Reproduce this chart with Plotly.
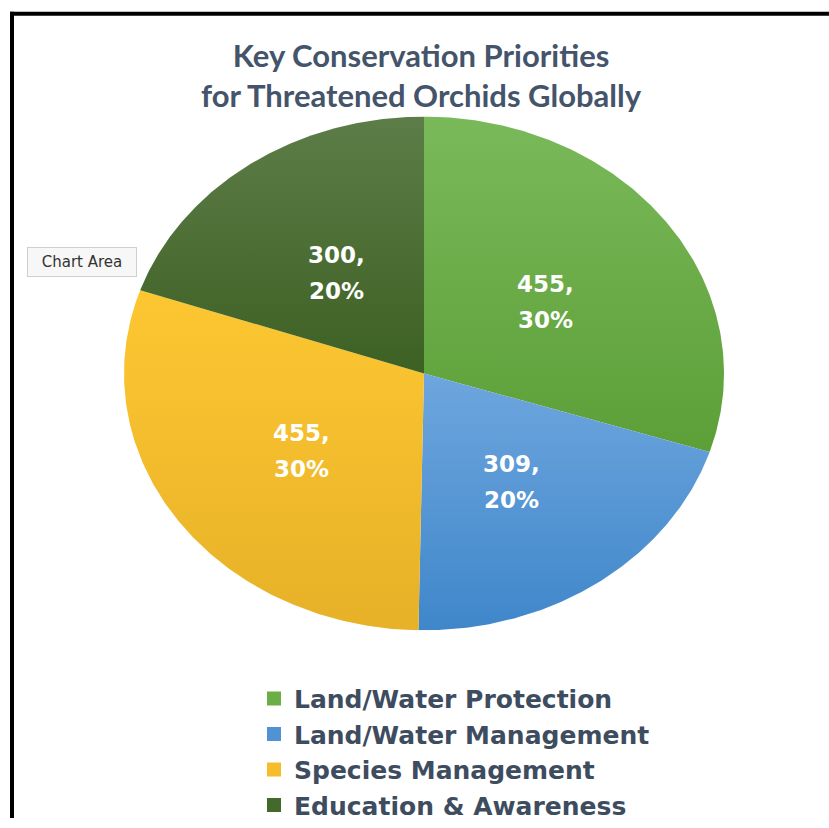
import numpy as np
import plotly.graph_objects as go

# Chart data
categories = ["Land/Water Protection", "Land/Water Management",
              "Species Management", "Education & Awareness"]
values = [455, 309, 455, 300]

# Slice fills: (bottom colour, top colour) for a soft vertical gradient
slice_colors = [("#5c9f37", "#7ab95a"),
                ("#3f87ca", "#6ea6de"),
                ("#e7b128", "#fdc732"),
                ("#3d6023", "#5d7d48")]
legend_colors = ["#6aae45", "#4f93d3", "#f5bd2c", "#436a2a"]

W, H = 829, 828
# pie bounding box in pixels (elliptical pie)
PX0, PX1, PY0, PY1 = 124, 724, 118, 638

total = sum(values)
fracs = [v / total for v in values]

label_font = dict(family="DejaVu Sans", size=23, color="white")

fig = go.Figure()
annotations = []

start = 0.0
for name, v, f, (c0, c1) in zip(categories, values, fracs, slice_colors):
    end = start + f
    t = np.linspace(start, end, 200) * 2 * np.pi
    xs = np.concatenate([[0], np.sin(t), [0]])
    ys = np.concatenate([[0], np.cos(t), [0]])
    fig.add_trace(go.Scatter(
        x=xs, y=ys, mode="lines", fill="toself",
        line=dict(width=0, color=c1),
        fillgradient=dict(type="vertical", colorscale=[[0, c0], [1, c1]]),
        showlegend=False, hoverinfo="skip"))
    # data label at half radius: value line above, percentage line below
    mid = (start + end) / 2 * 2 * np.pi
    lx, ly = 0.5 * np.sin(mid), 0.5 * np.cos(mid)
    for txt, shift in ((f"<b>{v},</b>", 14), (f"<b>{round(f * 100)}%</b>", -22)):
        annotations.append(dict(
            text=txt, x=lx, y=ly, xref="x", yref="y", yshift=shift,
            xanchor="center", yanchor="middle", showarrow=False, font=label_font))
    start = end

# Legend entries
for name, col in zip(categories, legend_colors):
    fig.add_trace(go.Scatter(
        x=[None], y=[None], mode="markers", name=name,
        marker=dict(symbol="square", size=14, color=col)))

annotations += [
    dict(text="<b>Key Conservation Priorities<br>for Threatened Orchids Globally</b>",
         x=421 / W, y=1 - 76 / H, xref="paper", yref="paper",
         xanchor="center", yanchor="middle", showarrow=False,
         font=dict(family="Lato", size=31, color="#44546a")),
    dict(text="Chart Area", x=82 / W, y=1 - 265 / H, xref="paper", yref="paper",
         xanchor="center", yanchor="middle", showarrow=False,
         width=102, height=22,
         font=dict(family="DejaVu Sans", size=15, color="#333333"),
         bgcolor="#f7f7f7", bordercolor="#cfcfcf", borderwidth=1, borderpad=3),
]

fig.update_layout(
    width=W, height=H,
    margin=dict(l=0, r=0, t=0, b=0),
    paper_bgcolor="white", plot_bgcolor="rgba(0,0,0,0)",
    xaxis=dict(domain=[PX0 / W, PX1 / W], range=[-1, 1], visible=False, fixedrange=True),
    yaxis=dict(domain=[1 - PY1 / H, 1 - PY0 / H], range=[-1, 1], visible=False, fixedrange=True),
    legend=dict(x=254 / W, y=1 - 684 / H, xanchor="left", yanchor="top",
                font=dict(family="DejaVu Sans", size=25, color="#3e4c60", weight="bold"),
                bgcolor="rgba(0,0,0,0)", itemclick=False, itemdoubleclick=False),
    showlegend=True,
    annotations=annotations,
    shapes=[
        dict(type="line", xref="paper", yref="paper", x0=10 / W, x1=1, y0=1 - 14 / H, y1=1 - 14 / H,
             line=dict(color="black", width=4)),
        dict(type="line", xref="paper", yref="paper", x0=12 / W, x1=12 / W, y0=0, y1=1 - 12 / H,
             line=dict(color="black", width=4)),
    ],
)

fig.write_html("out.html")
